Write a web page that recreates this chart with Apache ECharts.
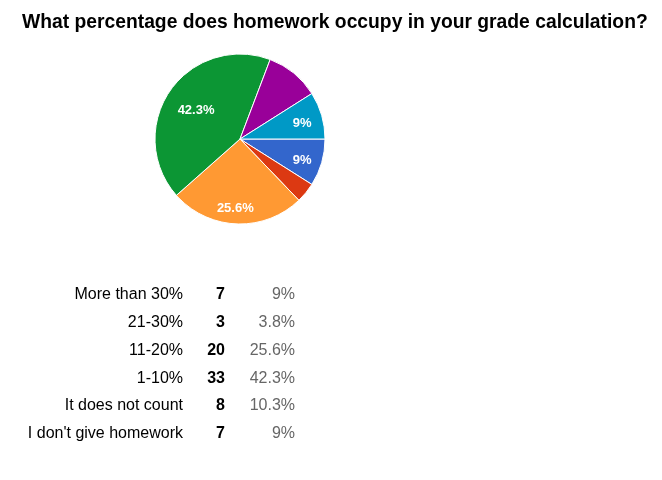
<!DOCTYPE html>
<html>
<head>
<meta charset="utf-8">
<script src="https://cdn.jsdelivr.net/npm/echarts@6/dist/echarts.min.js"></script>
<style>
  html, body { margin: 0; padding: 0; background: #fff; }
  #chart { width: 662px; height: 480px; }
</style>
</head>
<body>
<div id="chart"></div>
<script>
const title = "What percentage does homework occupy in your grade calculation?"
const categories = ["More than 30%", "21-30%", "11-20%", "1-10%", "It does not count", "I don't give homework"]
const counts = [7, 3, 20, 33, 8, 7]
const percents = ["9%", "3.8%", "25.6%", "42.3%", "10.3%", "9%"]
const colors = ["#3366cc", "#dc3912", "#ff9933", "#0c9634", "#990099", "#0099c6"]
const showLabel = [true, false, true, true, false, true]

let $ = s => document.querySelector(s)

const chart = echarts.init($("#chart"), null, { renderer: "canvas" })

const center = [240, 139]
const radius = 85
const rowTop = 295
const rowStep = 27.7
const font = "16px Arial, 'Liberation Sans', sans-serif"

let pieData = categories.map((name, i) => ({
  name: name,
  value: counts[i],
  itemStyle: { color: colors[i] }
}))

// labels ride on a transparent ring so they sit at ~3/4 of the radius
let labelData = categories.map((name, i) => ({
  name: name,
  value: counts[i],
  label: {
    show: showLabel[i],
    formatter: percents[i],
    // the big slice's label sits a bit closer to the middle
    offset: i === 3 ? [11, 9] : [-2, 3]
  }
}))

// the table under the pie
let rows = []
categories.forEach((name, i) => {
  let y = rowTop + i * rowStep
  let cell = (x, text, extra) => ({
    type: "text", x: x, y: y,
    style: Object.assign({ text: text, font: font, fill: "#000", align: "right", verticalAlign: "middle" }, extra)
  })
  rows.push(cell(183, name, {}))
  rows.push(cell(225, String(counts[i]), { font: "bold " + font }))
  rows.push(cell(295, percents[i], { fill: "#666" }))
})

const option = {
  backgroundColor: "#fff",
  animation: false,
  title: {
    text: title,
    left: 17,
    top: 8,
    textStyle: { fontFamily: "Arial, 'Liberation Sans', sans-serif", fontSize: 19.3, fontWeight: "bold", color: "#000" }
  },
  series: [{
    type: "pie",
    center: center,
    radius: [0, radius],
    startAngle: 0,
    clockwise: true,
    silent: true,
    label: { show: false },
    labelLine: { show: false },
    itemStyle: { borderColor: "#fff", borderWidth: 1 },
    data: pieData
  }, {
    type: "pie",
    center: center,
    radius: [radius / 2, radius],
    startAngle: 0,
    clockwise: true,
    silent: true,
    itemStyle: { color: "rgba(0,0,0,0)" },
    label: {
      position: "inside",
      color: "#fff",
      fontFamily: "Arial, 'Liberation Sans', sans-serif",
      fontSize: 13,
      fontWeight: "bold"
    },
    labelLine: { show: false },
    data: labelData
  }],
  graphic: rows
}

chart.setOption(option)
</script>
</body>
</html>
